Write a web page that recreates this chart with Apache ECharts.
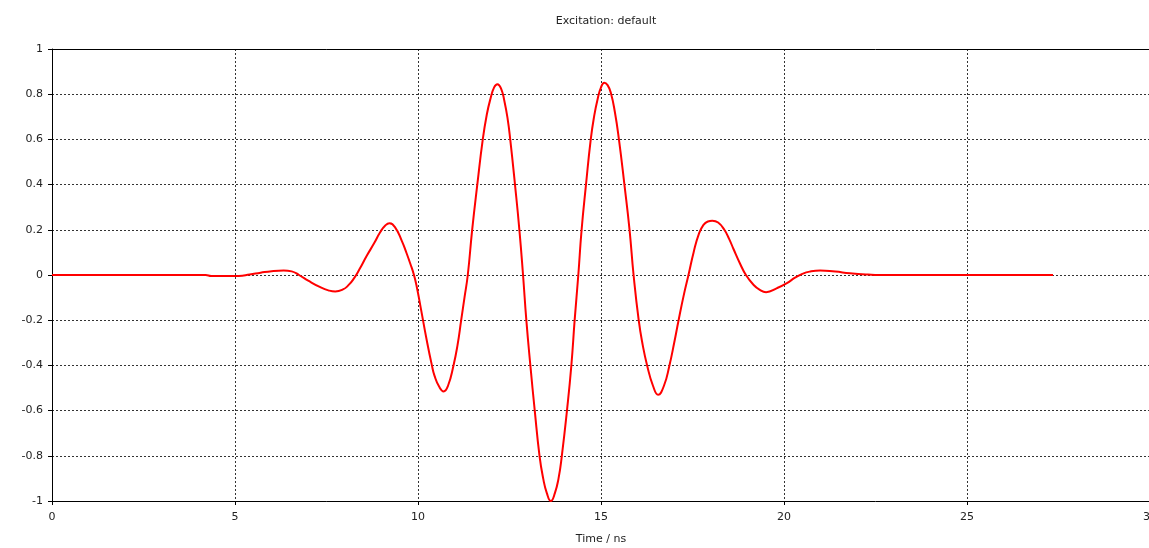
<!DOCTYPE html>
<html>
<head>
<meta charset="utf-8">
<script src="https://cdn.jsdelivr.net/npm/echarts@6/dist/echarts.min.js"></script>
<style>
  html, body { margin: 0; padding: 0; background: #fff; }
  #excitationChart { width: 1149px; height: 548px; }
</style>
</head>
<body>
<div id="excitationChart"></div>
<script>
// time samples (ns) and excitation amplitude
const timeNs = [
  0, 4.2, 4.35, 5.1, 5.4, 5.7, 6.0, 6.33, 6.55, 6.75, 7.0, 7.33, 7.55, 7.74, 7.95, 8.1,
  8.25, 8.4, 8.6, 8.8, 8.97, 9.1, 9.22, 9.37, 9.56, 9.68, 9.79, 9.89,
  9.97, 10.08, 10.24, 10.38, 10.45, 10.58, 10.7, 10.82, 10.97, 11.08, 11.18, 11.27, 11.36,
  11.48, 11.62, 11.77, 11.88, 11.98, 12.08, 12.17, 12.27, 12.36, 12.45, 12.52, 12.65, 12.77, 12.87,
  12.96, 13.07, 13.19, 13.32, 13.42, 13.52, 13.63, 13.74, 13.84, 13.93, 14.07, 14.19, 14.28, 14.38,
  14.47, 14.59, 14.72, 14.81, 14.91, 15.0, 15.09, 15.18, 15.27, 15.38, 15.49, 15.64, 15.78, 15.89,
  16.03, 16.14, 16.26, 16.42, 16.56, 16.72, 16.87, 17.0, 17.12, 17.26, 17.39,
  17.53, 17.67, 17.8, 17.92, 18.04, 18.2, 18.37, 18.5, 18.62, 18.8, 18.96,
  19.17, 19.33, 19.51, 19.81, 20.08, 20.3, 20.5, 20.7, 20.99, 21.4, 21.8, 22.3, 22.6, 27.35
];
const excitation = [
  0, 0, -0.004, -0.004, 0.002, 0.01, 0.017, 0.02, 0.016, 0.0, -0.025, -0.054, -0.068, -0.073, -0.064, -0.045,
  -0.015, 0.025, 0.085, 0.14, 0.19, 0.218, 0.229, 0.212, 0.15, 0.1, 0.05, 0.0,
  -0.055, -0.15, -0.29, -0.4, -0.445, -0.495, -0.515, -0.49, -0.4, -0.31, -0.2, -0.1, 0.0,
  0.2, 0.4, 0.6, 0.71, 0.78, 0.83, 0.844, 0.825, 0.77, 0.69, 0.6, 0.4, 0.2, 0.0,
  -0.2, -0.4, -0.6, -0.8, -0.9, -0.965, -1.0, -0.965, -0.9, -0.8, -0.6, -0.4, -0.2, 0.0,
  0.2, 0.4, 0.6, 0.7, 0.78, 0.83, 0.851, 0.84, 0.805, 0.72, 0.6, 0.4, 0.2, 0.0,
  -0.2, -0.31, -0.4, -0.49, -0.53, -0.49, -0.4, -0.3, -0.2, -0.09, 0.0,
  0.1, 0.18, 0.222, 0.237, 0.24, 0.232, 0.2, 0.16, 0.115, 0.05, 0.0,
  -0.044, -0.065, -0.076, -0.058, -0.036, -0.012, 0.005, 0.015, 0.02, 0.015, 0.008, 0.002, 0, 0
];
const titleText = 'Excitation: default';
const xName = 'Time / ns';

const chart = echarts.init(document.getElementById('excitationChart'));
const font = 'DejaVu Sans';
const gridLine = { show: true, lineStyle: { color: '#333', type: [2, 2], width: 1 } };

chart.setOption({
  animation: false,
  backgroundColor: '#fff',
  title: {
    text: titleText,
    left: 601,
    textAlign: 'center',
    top: 11,
    textStyle: { fontFamily: font, fontSize: 11, fontWeight: 'normal', color: '#222' }
  },
  grid: { left: 52, right: -1, top: 49, bottom: 47, outerBoundsMode: 'none', containLabel: false },
  xAxis: [
    {
      type: 'value',
      min: 0,
      max: 30,
      interval: 5,
      name: xName,
      nameLocation: 'middle',
      nameGap: 33,
      nameTextStyle: { fontFamily: font, fontSize: 11, color: '#222' },
      axisLine: { onZero: false, lineStyle: { color: '#000', width: 1 } },
      axisTick: { show: true, length: 4, lineStyle: { color: '#000' } },
      axisLabel: { margin: 11, fontFamily: font, fontSize: 11, color: '#222' },
      splitLine: gridLine
    },
    {
      type: 'value',
      position: 'top',
      min: 0,
      max: 30,
      axisLine: { show: true, onZero: false, lineStyle: { color: '#000', width: 1 } },
      axisTick: { show: false },
      axisLabel: { show: false },
      splitLine: { show: false }
    }
  ],
  yAxis: {
    type: 'value',
    min: -1,
    max: 1,
    interval: 0.2,
    axisLine: { show: true, onZero: false, lineStyle: { color: '#000', width: 1 } },
    axisTick: { show: true, length: 4, lineStyle: { color: '#000' } },
    axisLabel: { margin: 9, fontFamily: font, fontSize: 11, color: '#222' },
    splitLine: gridLine
  },
  series: [
    {
      type: 'line',
      data: timeNs.map((t, i) => [t, excitation[i]]),
      smooth: true,
      showSymbol: false,
      lineStyle: { color: '#ff0000', width: 2 },
      itemStyle: { color: '#ff0000' }
    }
  ]
});
</script>
</body>
</html>
